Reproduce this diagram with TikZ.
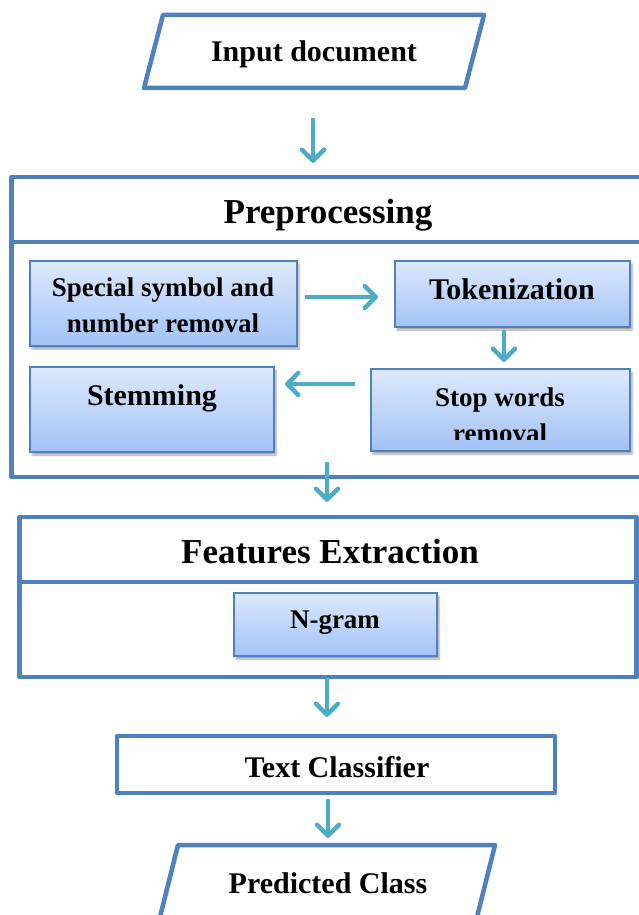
\documentclass[tikz,border=0pt]{standalone}
\usepackage{fontspec}
\setmainfont{Liberation Serif}
\usetikzlibrary{arrows.meta,shadows.blur}

\definecolor{frameblue}{HTML}{4F81BD}
\definecolor{flowaqua}{HTML}{4BACC6}
\definecolor{boxtop}{HTML}{DDE9FD}
\definecolor{boxbottom}{HTML}{A3C2F6}

\tikzset{
  frame/.style={draw=frameblue, line width=4.5pt, line join=round},
  stagebox/.style={draw=frameblue, line width=1.8pt, top color=boxtop, bottom color=boxbottom,
    blur shadow={shadow xshift=2pt, shadow yshift=-3pt, shadow blur steps=6, shadow opacity=35}},
  label/.style={font=\bfseries\fontsize{30}{36}\selectfont, inner sep=0pt},
  smalllabel/.style={font=\bfseries\fontsize{27}{36}\selectfont, inner sep=0pt, align=center},
  headlabel/.style={font=\bfseries\fontsize{35}{40}\selectfont, inner sep=0pt},
  flow/.style={draw=flowaqua, line width=4pt,
    -{Straight Barb[length=11pt, width=22pt, line width=4.5pt, round]}},
}

\begin{document}
\begin{tikzpicture}[x=1pt, y=-1pt]
\useasboundingbox (0,0) rectangle (638,915);

% input and output parallelograms
\draw[frame] (163,15) -- (484,15) -- (465,88) -- (144,88) -- cycle;
\node[label, anchor=base] (input) at (314,62) {Input document};

\draw[frame] (178,845) -- (495,845) -- (475,925) -- (158,925) -- cycle;
\node[label, anchor=base] (output) at (328,893) {Predicted Class};

% preprocessing stage
\draw[frame] (11.5,177) rectangle (650,477);
\draw[frame] (11.5,242) -- (650,242);
\node[headlabel, anchor=base] (prep) at (328,223) {Preprocessing};

\draw[stagebox] (30,261) rectangle (297,346);
\node[smalllabel] (special) at (163,305.5) {Special symbol and\\number removal};

\draw[stagebox] (395,261) rectangle (630,327);
\node[label, anchor=base] (token) at (512,299) {Tokenization};

\draw[stagebox] (371,369) rectangle (630,451);
\begin{scope}
  \clip (371,360) rectangle (630,439);
  \node[smalllabel] (stop) at (500,415.5) {Stop words\\removal};
\end{scope}

\draw[stagebox] (30,367) rectangle (274,452);
\node[label, anchor=base] (stem) at (152,405) {Stemming};

% feature extraction stage
\draw[frame] (19.5,517) rectangle (636.5,677);
\draw[frame] (19.5,582) -- (636.5,582);
\node[headlabel, anchor=base] (feat) at (330,563) {Features Extraction};

\draw[stagebox] (234,593) rectangle (437,656);
\node[smalllabel, anchor=base] (ngram) at (335,628) {N-gram};

% classifier
\draw[frame] (117,736) rectangle (555,793);
\node[label, anchor=base] (clf) at (337,777) {Text Classifier};

% connectors
\coordinate (a1s) at (313,118);  \coordinate (a1e) at (313,163);
\coordinate (b1s) at (305,297);  \coordinate (b1e) at (378,297);
\coordinate (b2s) at (504,330);  \coordinate (b2e) at (504,362);
\coordinate (b3s) at (355,384);  \coordinate (b3e) at (285,384);
\coordinate (a2s) at (327,462);  \coordinate (a2e) at (327,502);
\coordinate (a3s) at (327,678);  \coordinate (a3e) at (327,717);
\coordinate (a4s) at (328,799);  \coordinate (a4e) at (328,838);

\draw[flow] (a1s) -- (a1e);
\draw[flow] (b1s) -- (b1e);
\draw[flow] (b2s) -- (b2e);
\draw[flow] (b3s) -- (b3e);
\draw[flow] (a2s) -- (a2e);
\draw[flow] (a3s) -- (a3e);
\draw[flow] (a4s) -- (a4e);
\end{tikzpicture}
\end{document}
